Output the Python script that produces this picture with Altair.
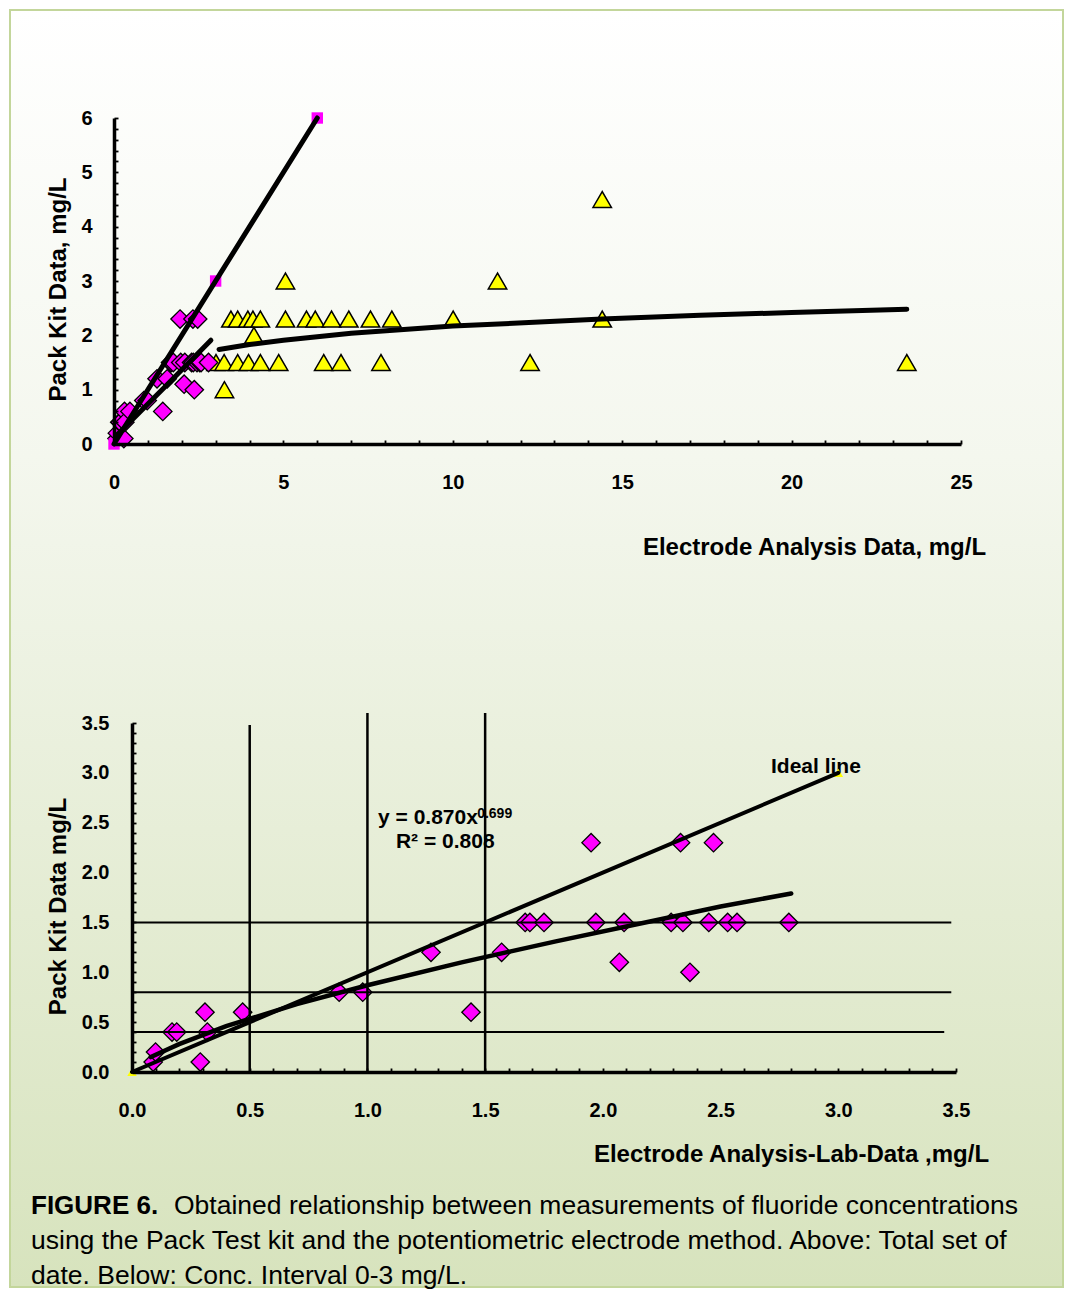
import altair as alt
import pandas as pd

FONT = "Liberation Sans"
MAG = "#ff00ff"
YEL = "#ffff00"

# ---------------- top panel data (total data set) ----------------
tri_x = [3.45, 3.65, 3.95, 4.10, 4.32, 5.06, 5.68, 5.94, 6.42, 6.93, 7.57, 8.20, 10.01, 14.41,
         3.01, 3.25, 3.65, 3.97, 4.32, 4.86, 6.19, 6.70, 7.88, 12.28, 23.40,
         5.06, 11.32, 14.41, 4.13, 3.26]
tri_y = [2.3, 2.3, 2.3, 2.3, 2.3, 2.3, 2.3, 2.3, 2.3, 2.3, 2.3, 2.3, 2.3, 2.3,
         1.5, 1.5, 1.5, 1.5, 1.5, 1.5, 1.5, 1.5, 1.5, 1.5, 1.5,
         3.0, 3.0, 4.5, 2.0, 1.0]

dia_x = [0.09, 0.10, 0.17, 0.19, 0.29, 0.31, 0.32, 0.47, 0.88, 0.98, 1.27, 1.44, 1.57, 1.67,
         1.69, 1.75, 1.95, 1.97, 2.07, 2.09, 2.29, 2.33, 2.34, 2.37, 2.45, 2.47, 2.53, 2.57, 2.79]
dia_y = [0.1, 0.2, 0.4, 0.4, 0.1, 0.6, 0.4, 0.6, 0.8, 0.8, 1.2, 0.6, 1.2, 1.5,
         1.5, 1.5, 2.3, 1.5, 1.1, 1.5, 1.5, 2.3, 1.5, 1.0, 1.5, 2.3, 1.5, 1.5, 1.5]

sq_x = [0, 3, 6]
sq_y = [0, 3, 6]

ideal_top_x = [0, 6]
ideal_top_y = [0, 6]
lin_x = [0.11, 1.58, 2.86]
lin_y = [0.18, 1.10, 1.91]
log_x = [3.1, 4.0, 5.0, 7.0, 10.0, 14.4, 17.3, 20.0, 23.4]
log_y = [1.74, 1.83, 1.91, 2.04, 2.17, 2.30, 2.37, 2.42, 2.48]

top_x_labels = [0, 5, 10, 15, 20, 25]
top_y_labels = [0, 1, 2, 3, 4, 5, 6]

# ---------------- bottom panel data (0-3 mg/L) ----------------
ideal_bot_x = [0, 3]
ideal_bot_y = [0, 3]
pow_x = [0.08, 0.2, 0.4, 0.7, 1.0, 1.4, 1.8, 2.2, 2.5, 2.8]
pow_y = [0.15, 0.28, 0.46, 0.68, 0.87, 1.10, 1.31, 1.51, 1.66, 1.79]
ytri_x = [0, 3]
ytri_y = [0, 3]
vline_x = [0.5, 1.0, 1.5]
vline_top = [3.48, 3.6, 3.6]
hline_y = [1.5, 0.8, 0.4]
hline_end = [3.48, 3.48, 3.45]
bot_labels = [0.0, 0.5, 1.0, 1.5, 2.0, 2.5, 3.0, 3.5]

ann_text = ["y = 0.870x", "R\u00b2 = 0.808"]
ann_x = [1.045, 1.121]
ann_y = [2.487, 2.247]
sup_text = ["0.699"]
sup_x = [1.466]
sup_y = [2.547]
ideal_text = ["Ideal line"]
ideal_tx = [2.905]
ideal_ty = [2.999]

caption_bold = "FIGURE 6."
caption_lines = [
    "Obtained relationship between measurements of fluoride concentrations",
    "using the Pack Test kit and the potentiometric electrode method. Above: Total set of",
    "date. Below: Conc. Interval 0-3 mg/L.",
]

# ---------------- geometry ----------------
W = 1054
H_TOP = 632
H_BOT = 645

xs_top = alt.Scale(domain=[0, 25], range=[105, 952], nice=False, zero=False)
ys_top = alt.Scale(domain=[0, 6], range=[435, 109], nice=False, zero=False)
xs_bot = alt.Scale(domain=[0, 3.5], range=[123, 947], nice=False, zero=False)
ys_bot = alt.Scale(domain=[0, 3.5], range=[431, 82], nice=False, zero=False)


def main_axis(orient, offset, values, fmt, title, tx, ty, pad):
    kw = dict(
        orient=orient, offset=offset, values=values, format=fmt,
        labelFont=FONT, labelFontSize=20, labelFontWeight="bold", labelColor="black",
        labelPadding=pad, labelFlush=False, labelOverlap=False,
        ticks=False, tickSize=0, domain=True, domainColor="black", domainWidth=3.5,
        grid=False, title=title, titleFont=FONT, titleFontSize=24, titleFontWeight="bold",
        titleColor="black", titleX=tx, titleY=ty, titleAlign="center", zindex=1,
    )
    if orient == "bottom":
        kw.update(labelBaseline="alphabetic", titleBaseline="alphabetic")
    else:
        kw.update(labelBaseline="middle", labelAlign="right", titleBaseline="middle", titleAngle=270)
    return alt.Axis(**kw)


def tick_axis(orient, offset, values):
    return alt.Axis(orient=orient, offset=offset, values=values, labels=False, domain=False,
                    ticks=True, tickSize=4, tickWidth=1.8, tickColor="black", grid=False,
                    title="", zindex=1)


top_xtick_vals = [i for i in range(26)]
top_ytick_vals = [round(i * 0.2, 1) for i in range(31)]
bot_tick_vals = [round(i * 0.1, 1) for i in range(36)]

# ---------------- top panel ----------------
bg = alt.Chart(pd.DataFrame({"a": [0]})).mark_rect(
    fill=alt.LinearGradient(
        gradient="linear",
        stops=[alt.GradientStop(color="#ffffff", offset=0),
               alt.GradientStop(color="#f4f7ee", offset=0.35),
               alt.GradientStop(color="#d7e3bd", offset=1)],
        x1=0, x2=0, y1=0, y2=1),
    stroke="#c3d69b", strokeWidth=2,
).encode(x=alt.value(1), x2=alt.value(W), y=alt.value(1), y2=alt.value(1278))

tri_df = pd.DataFrame({"x": tri_x, "y": tri_y})
triangles = alt.Chart(tri_df).mark_point(
    shape="triangle-up", filled=True, fill=YEL, stroke="black", strokeWidth=1.5, size=340, opacity=1
).encode(
    x=alt.X("x:Q", scale=xs_top,
            axis=main_axis("bottom", 435 - H_TOP, top_x_labels, "d",
                           "Electrode Analysis Data, mg/L", 805, 110, 44)),
    y=alt.Y("y:Q", scale=ys_top,
            axis=main_axis("left", -105, top_y_labels, "d", "Pack Kit Data, mg/L", -56, 280, 22)),
)

dia_df = pd.DataFrame({"x": dia_x, "y": dia_y})
diamonds_top = alt.Chart(dia_df).mark_point(
    shape="diamond", filled=True, fill=MAG, stroke="black", strokeWidth=1.3, size=340, opacity=1
).encode(
    x=alt.X("x:Q", scale=xs_top, axis=tick_axis("top", -435, top_xtick_vals)),
    y=alt.Y("y:Q", scale=ys_top, axis=tick_axis("right", 105 - W, top_ytick_vals)),
)

squares = alt.Chart(pd.DataFrame({"x": sq_x, "y": sq_y})).mark_point(
    shape="square", filled=True, fill=MAG, strokeWidth=0, size=130, opacity=1
).encode(x=alt.X("x:Q", scale=xs_top, axis=None), y=alt.Y("y:Q", scale=ys_top, axis=None))


def line_layer(xv, yv, xs, ys, width):
    return alt.Chart(pd.DataFrame({"x": xv, "y": yv})).mark_line(
        color="black", strokeWidth=width, strokeCap="round"
    ).encode(x=alt.X("x:Q", scale=xs, axis=None), y=alt.Y("y:Q", scale=ys, axis=None))


top = alt.layer(
    bg, triangles, diamonds_top, squares,
    line_layer(ideal_top_x, ideal_top_y, xs_top, ys_top, 5),
    line_layer(lin_x, lin_y, xs_top, ys_top, 5),
    line_layer(log_x, log_y, xs_top, ys_top, 5),
).resolve_scale(x="independent", y="independent").properties(width=W, height=H_TOP)

# ---------------- bottom panel ----------------
ann = alt.Chart(pd.DataFrame({"x": ann_x, "y": ann_y, "t": ann_text})).mark_text(
    align="left", baseline="alphabetic", font=FONT, fontSize=21, fontWeight="bold", color="black"
).encode(x=alt.X("x:Q", scale=xs_bot, axis=None), y=alt.Y("y:Q", scale=ys_bot, axis=None), text="t:N")

sup = alt.Chart(pd.DataFrame({"x": sup_x, "y": sup_y, "t": sup_text})).mark_text(
    align="left", baseline="alphabetic", font=FONT, fontSize=14, fontWeight="bold", color="black"
).encode(x=alt.X("x:Q", scale=xs_bot, axis=None), y=alt.Y("y:Q", scale=ys_bot, axis=None), text="t:N")

ideal_lbl = alt.Chart(pd.DataFrame({"x": ideal_tx, "y": ideal_ty, "t": ideal_text})).mark_text(
    align="center", baseline="alphabetic", font=FONT, fontSize=21, fontWeight="bold", color="black"
).encode(x=alt.X("x:Q", scale=xs_bot, axis=None), y=alt.Y("y:Q", scale=ys_bot, axis=None), text="t:N")

diamonds_bot = alt.Chart(dia_df).mark_point(
    shape="diamond", filled=True, fill=MAG, stroke="black", strokeWidth=1.3, size=340, opacity=1
).encode(
    x=alt.X("x:Q", scale=xs_bot,
            axis=main_axis("bottom", 431 - H_BOT, bot_labels, ".1f",
                           "Electrode Analysis-Lab-Data ,mg/L", 782, 89, 44)),
    y=alt.Y("y:Q", scale=ys_bot,
            axis=main_axis("left", -123, bot_labels, ".1f", "Pack Kit Data mg/L", -74, 265, 23)),
)

ytri = alt.Chart(pd.DataFrame({"x": ytri_x, "y": ytri_y})).mark_point(
    shape="triangle-up", filled=True, fill=YEL, strokeWidth=0, size=90, opacity=1
).encode(
    x=alt.X("x:Q", scale=xs_bot, axis=tick_axis("top", -431, bot_tick_vals)),
    y=alt.Y("y:Q", scale=ys_bot, axis=tick_axis("right", 123 - W, bot_tick_vals)),
)

vrules = alt.Chart(pd.DataFrame({"x": vline_x, "y0": [0, 0, 0], "y1": vline_top})).mark_rule(
    color="black", strokeWidth=2.5
).encode(x=alt.X("x:Q", scale=xs_bot, axis=None), y=alt.Y("y0:Q", scale=ys_bot, axis=None), y2="y1:Q")

hrules = alt.Chart(pd.DataFrame({"y": hline_y, "x0": [0, 0, 0], "x1": hline_end})).mark_rule(
    color="black", strokeWidth=2
).encode(y=alt.Y("y:Q", scale=ys_bot, axis=None), x=alt.X("x0:Q", scale=xs_bot, axis=None), x2="x1:Q")

cap_bold = alt.Chart(pd.DataFrame({"a": [0]})).mark_text(
    text=caption_bold, align="left", baseline="alphabetic", font=FONT, fontSize=26,
    fontWeight="bold", color="black"
).encode(x=alt.value(22), y=alt.value(573))

cap_layers = [cap_bold]
cap_pos = [(165, 573), (22, 608), (22, 643)]
for line, (cx, cy) in zip(caption_lines, cap_pos):
    cap_layers.append(
        alt.Chart(pd.DataFrame({"a": [0]})).mark_text(
            text=line, align="left", baseline="alphabetic", font=FONT, fontSize=26.5,
            fontWeight="normal", color="black"
        ).encode(x=alt.value(cx), y=alt.value(cy))
    )

bottom = alt.layer(
    ann, sup, ideal_lbl, diamonds_bot, ytri,
    line_layer(ideal_bot_x, ideal_bot_y, xs_bot, ys_bot, 4),
    line_layer(pow_x, pow_y, xs_bot, ys_bot, 4.5),
    vrules, hrules, *cap_layers,
).resolve_scale(x="independent", y="independent").properties(width=W, height=H_BOT)

chart = alt.vconcat(top, bottom, spacing=0, bounds="flush").properties(
    padding=0
).configure_view(stroke="transparent")

chart.save("out.html", embed_options={"renderer": "svg", "actions": False})
